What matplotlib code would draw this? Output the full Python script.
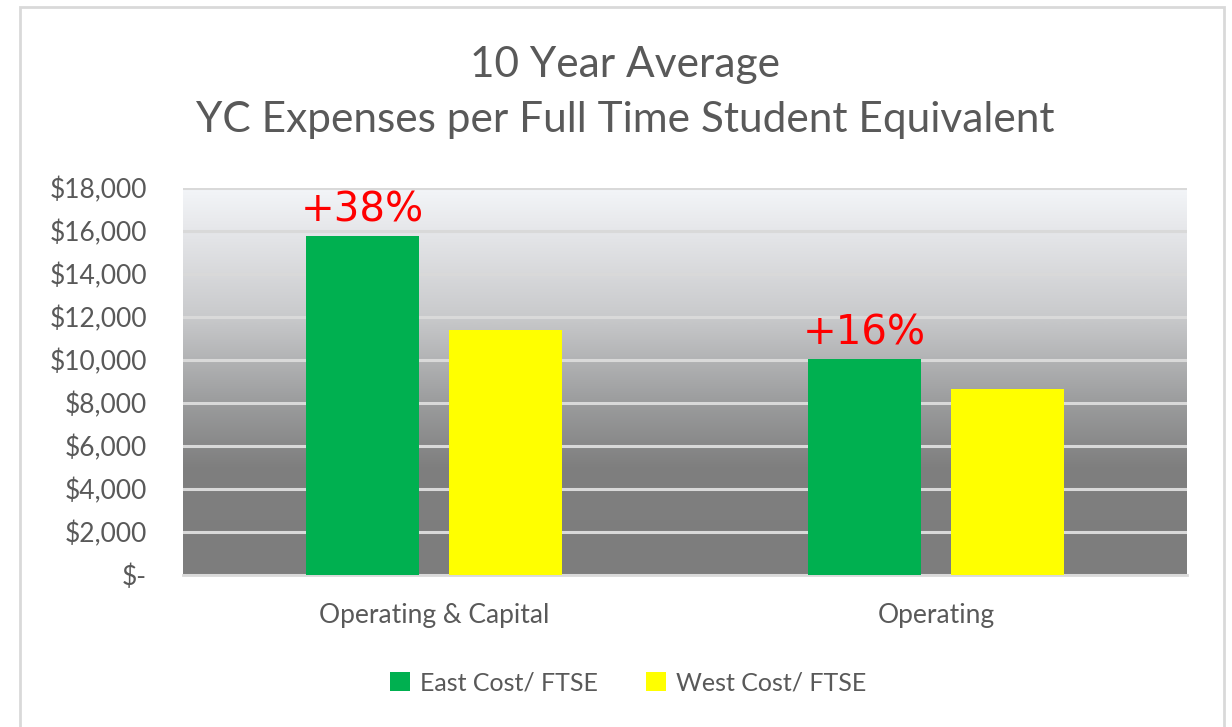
import matplotlib
matplotlib.use("Agg")
import matplotlib.pyplot as plt
import numpy as np
from matplotlib.colors import LinearSegmentedColormap
from matplotlib.patches import Rectangle
from matplotlib.ticker import FuncFormatter

categories = ["Operating & Capital", "Operating"]
east_values = [15750, 10050]
west_values = [11400, 8650]
series_names = ["East Cost/ FTSE", "West Cost/ FTSE"]
annotations = ["+38%", "+16%"]
title_lines = ["10 Year Average", "YC Expenses per Full Time Student Equivalent"]

plt.rcParams['font.family'] = ['Lato', 'DejaVu Sans']
text_color = "#595959"

fig = plt.figure(figsize=(12.32, 7.27), dpi=100)
fig.patch.set_facecolor("white")
# outer chart border
fig.patches.append(Rectangle((20/1232, -0.05), (1224-20)/1232, 1+0.05-7/727,
                             transform=fig.transFigure, fill=False,
                             edgecolor="#d9d9d9", linewidth=2))

ax = fig.add_axes([183/1232, 1-575/727, (1187-183)/1232, (575-188)/727])

# gradient background (top light -> bottom gray)
cmap = LinearSegmentedColormap.from_list("bg", [
    (0.0, "#f3f5f8"), (0.1, "#e7e8eb"), (0.33, "#c9cacc"),
    (0.55, "#9c9d9e"), (0.72, "#7f7f7f"), (1.0, "#7d7d7d")])
grad = np.linspace(0, 1, 256).reshape(-1, 1)
ax.imshow(grad, cmap=cmap, aspect="auto", extent=[-0.5, 1.5, 0, 18000],
          origin="upper", zorder=0, interpolation="bicubic")

x = np.arange(len(categories))
bw = 0.225
off = 0.1425
ax.bar(x - off, east_values, bw, color="#00b050", label=series_names[0], zorder=3)
ax.bar(x + off, west_values, bw, color="#ffff00", label=series_names[1], zorder=3)

for xi, v, t in zip(x - off, east_values, annotations):
    ax.text(xi, v + 250, t, color="#ff0000", fontsize=29, ha="center", va="bottom",
            family=["DejaVu Sans"], zorder=4)

ax.set_xlim(-0.5, 1.5)
ax.set_ylim(0, 18000)
ax.set_yticks(np.arange(0, 18001, 2000))
ax.yaxis.set_major_formatter(FuncFormatter(lambda v, p: "$-" if v == 0 else f"${v:,.0f}"))
ax.grid(axis="y", color="#d9d9d9", linewidth=2.2, zorder=1)
ax.set_axisbelow(False)
for s in ["left", "right", "top"]:
    ax.spines[s].set_visible(False)
ax.spines["bottom"].set_color("#d9d9d9")
ax.spines["bottom"].set_linewidth(2)
ax.set_xticks(x)
ax.set_xticklabels(categories)
ax.tick_params(axis="both", length=0, colors=text_color, labelsize=19)
ax.tick_params(axis="x", pad=20)
ax.tick_params(axis="y", pad=26)

fig.text(625/1232, 1-65/727, title_lines[0], ha="center", va="center", fontsize=30.5, color=text_color)
fig.text(625/1232, 1-120/727, title_lines[1], ha="center", va="center", fontsize=30.5, color=text_color)

leg = fig.legend(loc="center", bbox_to_anchor=(628/1232, 1-683/727), ncol=2, frameon=False,
                 fontsize=18, labelcolor=text_color, handlelength=0.8, handleheight=0.8,
                 handletextpad=0.4, columnspacing=1.9)

fig.savefig("out.png", dpi=100)
